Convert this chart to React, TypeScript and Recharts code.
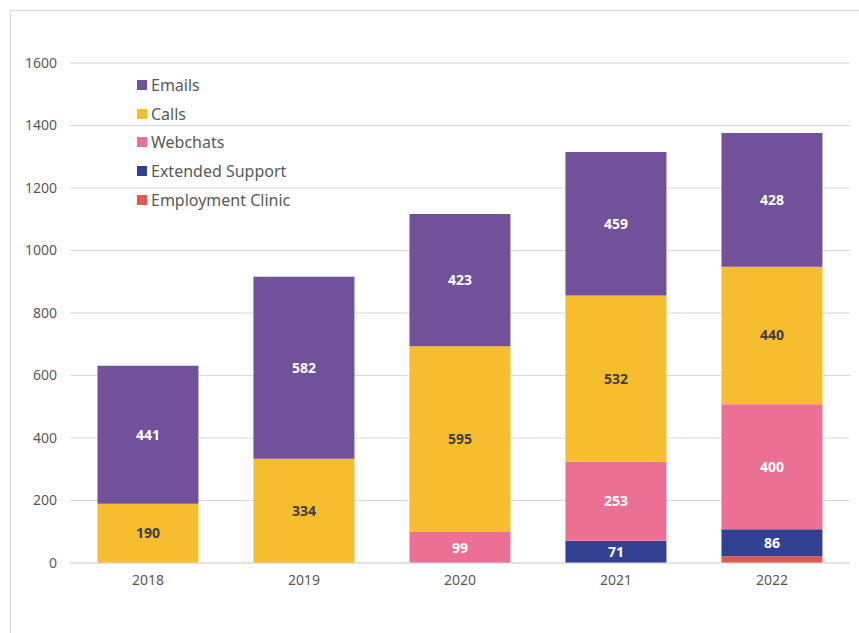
import React from 'react';
import { BarChart, Bar, XAxis, YAxis, CartesianGrid, LabelList } from 'recharts';

const years = ['2018', '2019', '2020', '2021', '2022'];
const emails = [441, 582, 423, 459, 428];
const calls = [190, 334, 595, 532, 440];
const webchats = [0, 0, 99, 253, 400];
const extendedSupport = [0, 0, 0, 71, 86];
const employmentClinic = [0, 0, 0, 0, 22];
const yTicks = [0, 200, 400, 600, 800, 1000, 1200, 1400, 1600];

// bottom of the stack first
const series = [
  { key: 'employmentClinic', name: 'Employment Clinic', color: '#E05A4B', labelColor: '#ffffff', showLabel: false },
  { key: 'extendedSupport', name: 'Extended Support', color: '#334192', labelColor: '#ffffff', showLabel: true },
  { key: 'webchats', name: 'Webchats', color: '#EC7093', labelColor: '#ffffff', showLabel: true },
  { key: 'calls', name: 'Calls', color: '#F6BD2F', labelColor: '#404040', showLabel: true },
  { key: 'emails', name: 'Emails', color: '#71519A', labelColor: '#ffffff', showLabel: true },
];

const data = years.map((year, i) => ({
  year,
  emails: emails[i],
  calls: calls[i],
  webchats: webchats[i],
  extendedSupport: extendedSupport[i],
  employmentClinic: employmentClinic[i],
}));

const FONT = '"Noto Sans", sans-serif';

const LegendBox = () => (
  <div style={{ position: 'absolute', left: 137, top: 71, fontFamily: FONT, zIndex: 2 }}>
    {[...series].reverse().map((s) => (
      <div key={s.key} style={{ display: 'flex', alignItems: 'center', height: 28.6 }}>
        <span style={{ width: 10, height: 10, background: s.color, display: 'inline-block', marginRight: 4 }} />
        <span style={{ fontSize: 16, color: '#595959', whiteSpace: 'nowrap' }}>{s.name}</span>
      </div>
    ))}
  </div>
);

const App: React.FC = () => {
  return (
    <div style={{ position: 'absolute', left: 0, top: 0, width: 859, height: 633, background: '#fff', overflow: 'hidden' }}>
      <div
        style={{
          position: 'absolute',
          left: 10,
          top: 10,
          width: 870,
          height: 660,
          border: '1px solid #d9d9d9',
        }}
      />
      <BarChart
        width={859}
        height={633}
        data={data}
        margin={{ top: 63, right: 9, bottom: 0, left: 0 }}
        barCategoryGap="17.6%"
        style={{ position: 'absolute', left: 0, top: 0 }}
      >
        <CartesianGrid vertical={false} stroke="#d9d9d9" strokeWidth={1.2} />
        <XAxis
          dataKey="year"
          height={70}
          axisLine={{ stroke: '#d9d9d9', strokeWidth: 1.2 }}
          tickLine={false}
          tickMargin={6}
          tick={{ fill: '#595959', fontSize: 14, fontFamily: FONT }}
        />
        <YAxis
          width={70}
          domain={[0, 1600]}
          ticks={yTicks}
          axisLine={false}
          tickLine={false}
          tickMargin={7}
          tick={{ fill: '#595959', fontSize: 14, fontFamily: FONT }}
        />
        {series.map((s) => (
          <Bar key={s.key} dataKey={s.key} name={s.name} stackId="a" fill={s.color} isAnimationActive={false}>
            {s.showLabel && (
              <LabelList
                dataKey={s.key}
                position="center"
                formatter={(v: number) => (v ? v : '')}
                fill={s.labelColor}
                style={{ fontSize: 14, fontWeight: 700, fontFamily: FONT }}
              />
            )}
          </Bar>
        ))}
      </BarChart>
      <LegendBox />
    </div>
  );
};

export default App;
